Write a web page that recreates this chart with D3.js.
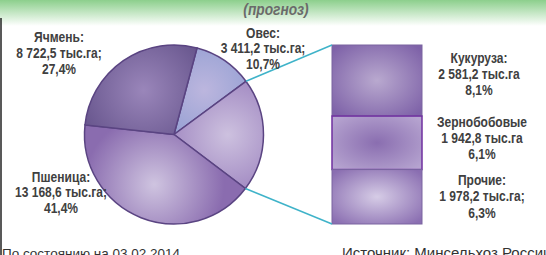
<!DOCTYPE html>
<html>
<head>
<meta charset="utf-8">
<script src="https://cdn.jsdelivr.net/npm/d3@7"></script>
<style>
  body { margin: 0; background: #fff; }
  svg { display: block; }
  .lbl { font-family: "Liberation Sans", Arial, sans-serif; font-weight: bold; font-size: 14px; fill: #404040; }
  .foot { font-family: "Liberation Sans", Arial, sans-serif; font-size: 14px; fill: #333; }
</style>
</head>
<body>
<svg id="chart" width="546" height="255"></svg>
<script>
// data
var crops = ["Пшеница", "Ячмень", "Овес", "Кукуруза", "Зернобобовые", "Прочие"];
var area = [13168.6, 8722.5, 3411.2, 2581.2, 1942.8, 1978.2];
var share = ["41,4%", "27,4%", "10,7%", "8,1%", "6,1%", "6,3%"];
var areaText = ["13 168,6 тыс.га;", "8 722,5 тыс.га;", "3 411,2 тыс.га;", "2 581,2 тыс.га", "1 942,8 тыс.га", "1 978,2 тыс.га;"];
var nameText = ["Пшеница:", "Ячмень:", "Овес:", "Кукуруза:", "Зернобобовые", "Прочие:"];
var title = "(прогноз)";
var footLeft = "По состоянию на 03.02.2014";
var footRight = "Источник: Минсельхоз России";

var svg = d3.select("#chart");
var defs = svg.append("defs");

// header band
var hg = defs.append("linearGradient").attr("id", "hdr").attr("x1", 0).attr("x2", 0).attr("y1", 0).attr("y2", 1);
hg.append("stop").attr("offset", "0%").attr("stop-color", "#8ccf8c");
hg.append("stop").attr("offset", "100%").attr("stop-color", "#ffffff");
svg.append("rect").attr("x", 0).attr("y", 0).attr("width", 546).attr("height", 26).attr("fill", "url(#hdr)");
svg.append("line").attr("x1", 1).attr("x2", 1).attr("y1", 18).attr("y2", 255)
  .attr("stroke", "#222").attr("stroke-width", 1.5);

svg.append("text").attr("transform", "translate(276,15) scale(0.86,1)").attr("text-anchor", "middle")
  .style("font-family", "Liberation Sans, Arial, sans-serif").style("font-weight", "bold")
  .style("font-style", "italic").style("font-size", "16px").attr("fill", "#6a6a6a")
  .text(title);

// pie: Овес, остальные, Пшеница, Ячмень (clockwise)
var restSum = area[3] + area[4] + area[5];
var pieData = [
  {key: "oats", v: area[2], c0: "#bcb6de", c1: "#8a9ad0"},
  {key: "rest", v: restSum, c0: "#cdc1df", c1: "#9a80bd"},
  {key: "wheat", v: area[0], c0: "#cfc4e0", c1: "#8a6caf"},
  {key: "barley", v: area[1], c0: "#9a86ba", c1: "#66548c"}
];
var cx = 174, cy = 134.5, r = 89.5;
var pie = d3.pie().sort(null).value(function(d) { return d.v; })
  .startAngle(14.9 * Math.PI / 180).endAngle(374.9 * Math.PI / 180);
var arc = d3.arc().innerRadius(0).outerRadius(r);
var arcs = pie(pieData);

var gp = svg.append("g").attr("transform", "translate(" + cx + "," + cy + ")");
arcs.forEach(function(a, i) {
  var g = defs.append("radialGradient").attr("id", "pg" + i).attr("gradientUnits", "userSpaceOnUse")
    .attr("cx", arc.centroid(a)[0] * 1.2).attr("cy", arc.centroid(a)[1] * 1.2).attr("r", 70);
  g.append("stop").attr("offset", "0%").attr("stop-color", a.data.c0);
  g.append("stop").attr("offset", "100%").attr("stop-color", a.data.c1);
});
gp.selectAll("path").data(arcs).enter().append("path")
  .attr("d", arc)
  .attr("fill", function(d, i) { return "url(#pg" + i + ")"; })
  .attr("stroke", "#5a4482").attr("stroke-width", 1.5);

// stacked bar of the rest
var bx = 332, bw = 90;
var barVals = [area[3], area[4], area[5]];
var y = d3.scaleLinear().domain([0, restSum]).range([cy - r, cy + r]);
var barStyle = [
  {c0: "#b9a9cf", c1: "#7e62a8", s: "#7a64a0"},
  {c0: "#8a6eb0", c1: "#b6a4d0", s: "#7030a0"},
  {c0: "#d6cce6", c1: "#8a6eb1", s: "#7a64a0"}
];
var acc = 0;
barVals.forEach(function(v, i) {
  var g = defs.append("radialGradient").attr("id", "bg" + i).attr("cx", "50%").attr("cy", "50%").attr("r", "65%");
  g.append("stop").attr("offset", "0%").attr("stop-color", barStyle[i].c0);
  g.append("stop").attr("offset", "100%").attr("stop-color", barStyle[i].c1);
  svg.append("rect").attr("x", bx).attr("y", y(acc)).attr("width", bw).attr("height", y(acc + v) - y(acc))
    .attr("fill", "url(#bg" + i + ")").attr("stroke", barStyle[i].s).attr("stroke-width", i == 1 ? 1.5 : 1);
  acc += v;
});

// connector lines
var rest = arcs[1];
var p0 = d3.pointRadial(rest.startAngle, r), p1 = d3.pointRadial(rest.endAngle, r);
svg.append("line").attr("x1", cx + p0[0]).attr("y1", cy + p0[1]).attr("x2", bx).attr("y2", y(0))
  .attr("stroke", "#3fb3c9").attr("stroke-width", 1.5);
svg.append("line").attr("x1", cx + p1[0]).attr("y1", cy + p1[1]).attr("x2", bx).attr("y2", y(restSum))
  .attr("stroke", "#3fb3c9").attr("stroke-width", 1.5);

// labels (condensed face: squeeze horizontally)
var labelPos = [
  [61, 182, 15.5], [59, 42, 16], [263, 37.5, 16],
  [479, 63, 16], [482, 127, 16], [482, 185, 16.5]
];
crops.forEach(function(c, i) {
  var t = svg.append("text").attr("class", "lbl").attr("text-anchor", "middle")
    .attr("transform", "translate(" + labelPos[i][0] + "," + labelPos[i][1] + ") scale(0.86,1)");
  [nameText[i], areaText[i], share[i]].forEach(function(s, k) {
    t.append("tspan").attr("x", 0).attr("dy", k == 0 ? 0 : labelPos[i][2]).text(s);
  });
});

svg.append("text").attr("class", "foot").attr("x", 2).attr("y", 258).style("font-size", "13.5px").text(footLeft);
svg.append("text").attr("class", "foot").attr("x", 342).attr("y", 258).style("font-size", "15px").text(footRight);
</script>
</body>
</html>
